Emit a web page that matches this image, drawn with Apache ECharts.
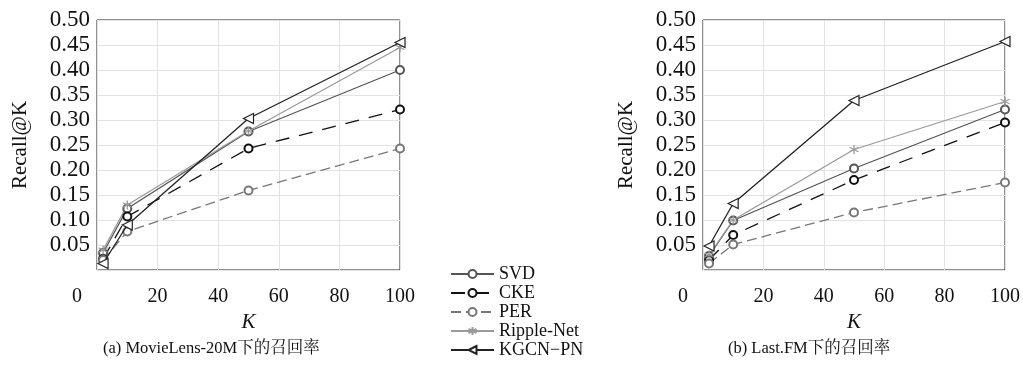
<!DOCTYPE html>
<html>
<head>
<meta charset="utf-8">
<script src="https://cdn.jsdelivr.net/npm/echarts@6/dist/echarts.min.js"></script>
<style>
  html, body { margin: 0; padding: 0; background: #fff; }
  #recallChart { width: 1023px; height: 372px; }
</style>
</head>
<body>
<div id="recallChart"></div>
<script>
// K 取值
const kValues = [2, 10, 50, 100];
const seriesNames = ['SVD', 'CKE', 'PER', 'Ripple-Net', 'KGCN−PN'];

// (a) MovieLens-20M
const mlSVD = [0.034, 0.123, 0.277, 0.400];
const mlCKE = [0.022, 0.107, 0.243, 0.321];
const mlPER = [0.020, 0.077, 0.159, 0.243];
const mlRipple = [0.040, 0.130, 0.278, 0.445];
const mlKGCN = [0.013, 0.090, 0.303, 0.455];

// (b) Last.FM
const fmSVD = [0.028, 0.099, 0.203, 0.321];
const fmCKE = [0.020, 0.070, 0.180, 0.295];
const fmPER = [0.013, 0.051, 0.115, 0.175];
const fmRipple = [0.030, 0.100, 0.241, 0.337];
const fmKGCN = [0.048, 0.133, 0.339, 0.457];

const captions = ['(a) MovieLens-20M下的召回率', '(b) Last.FM下的召回率'];

const serifFont = "'Liberation Serif', 'Noto Serif CJK SC', 'Noto Sans CJK SC', serif";
const triLeft = 'path://M10,0 L0,5 L10,10 Z';
const asterisk = 'path://M5,0L5,10M0.7,2.5L9.3,7.5M9.3,2.5L0.7,7.5';

// 每条线的样式
const styles = {
  'SVD': { color: '#555', dash: 'solid', symbol: 'emptyCircle', size: 8, bw: 2 },
  'CKE': { color: '#111', dash: [14, 10], symbol: 'emptyCircle', size: 8, bw: 2 },
  'PER': { color: '#777', dash: [10, 5], symbol: 'emptyCircle', size: 8, bw: 2 },
  'Ripple-Net': { color: '#9a9a9a', dash: 'solid', symbol: asterisk, size: 9, bw: 1.3 },
  'KGCN−PN': { color: '#222', dash: 'solid', symbol: triLeft, size: 10, bw: 1.2 }
};

function makeSeries(name, values, idx) {
  const s = styles[name];
  return {
    name: name,
    type: 'line',
    xAxisIndex: idx,
    yAxisIndex: idx,
    data: kValues.map((k, i) => [k, values[i]]),
    symbol: s.symbol,
    symbolSize: s.size,
    showAllSymbol: true,
    lineStyle: { color: s.color, width: 1.3, type: s.dash },
    itemStyle: {
      color: s.symbol === 'emptyCircle' ? s.color : '#fff',
      borderColor: s.color,
      borderWidth: s.bw
    },
    emphasis: { disabled: true },
    z: name === 'KGCN−PN' ? 5 : 3
  };
}

function makeXAxis(idx) {
  return {
    type: 'value',
    gridIndex: idx,
    min: 0,
    max: 100,
    interval: 20,
    name: 'K',
    nameLocation: 'middle',
    nameGap: 42,
    nameTextStyle: { fontFamily: serifFont, fontStyle: 'italic', fontSize: 21, color: '#111' },
    axisLine: { show: false },
    axisTick: { show: false },
    splitLine: { show: true, lineStyle: { color: '#e2e2e2', width: 1 } },
    axisLabel: {
      margin: 17,
      fontFamily: serifFont,
      fontSize: 20,
      color: '#111',
      formatter: function (v) { return v === 0 ? '{z|0}' : String(v); },
      rich: {
        z: { fontFamily: serifFont, fontSize: 20, color: '#111', padding: [0, 40, 0, 0] }
      }
    }
  };
}

function makeYAxis(idx) {
  return {
    type: 'value',
    gridIndex: idx,
    min: 0,
    max: 0.5,
    interval: 0.05,
    name: 'Recall@K',
    nameLocation: 'middle',
    nameGap: 66,
    nameRotate: 90,
    nameTextStyle: { fontFamily: serifFont, fontSize: 21, color: '#111' },
    axisLine: { show: false },
    axisTick: { show: false },
    splitLine: { show: true, lineStyle: { color: '#e2e2e2', width: 1 } },
    axisLabel: {
      margin: 7,
      fontFamily: serifFont,
      fontSize: 23,
      color: '#111',
      formatter: function (v) { return v === 0 ? '' : v.toFixed(2); }
    }
  };
}

let recallChart = echarts.init(document.getElementById('recallChart'));
let option = {
  backgroundColor: '#fff',
  animation: false,
  grid: [
    { left: 97, top: 20, width: 303, height: 250, show: true, borderColor: '#222', borderWidth: 1, backgroundColor: 'transparent' },
    { left: 703, top: 20, width: 304, height: 250, show: true, borderColor: '#222', borderWidth: 1, backgroundColor: 'transparent' }
  ],
  xAxis: [makeXAxis(0), makeXAxis(1)],
  yAxis: [makeYAxis(0), makeYAxis(1)],
  legend: {
    data: seriesNames,
    orient: 'vertical',
    left: 450,
    top: 265,
    padding: 0,
    itemGap: 1,
    itemWidth: 43,
    itemHeight: 10,
    textStyle: { fontFamily: serifFont, fontSize: 18, color: '#111', lineHeight: 17 }
  },
  graphic: [
    { type: 'text', left: 103, top: 340, style: { text: captions[0], font: '16.5px ' + serifFont, fill: '#111' } },
    { type: 'text', left: 728, top: 340, style: { text: captions[1], font: '16.5px ' + serifFont, fill: '#111' } }
  ],
  series: [
    makeSeries('SVD', mlSVD, 0),
    makeSeries('CKE', mlCKE, 0),
    makeSeries('PER', mlPER, 0),
    makeSeries('Ripple-Net', mlRipple, 0),
    makeSeries('KGCN−PN', mlKGCN, 0),
    makeSeries('SVD', fmSVD, 1),
    makeSeries('CKE', fmCKE, 1),
    makeSeries('PER', fmPER, 1),
    makeSeries('Ripple-Net', fmRipple, 1),
    makeSeries('KGCN−PN', fmKGCN, 1)
  ]
};
recallChart.setOption(option);
window.addEventListener('resize', function () {
  recallChart.resize();
});
</script>
</body>
</html>
